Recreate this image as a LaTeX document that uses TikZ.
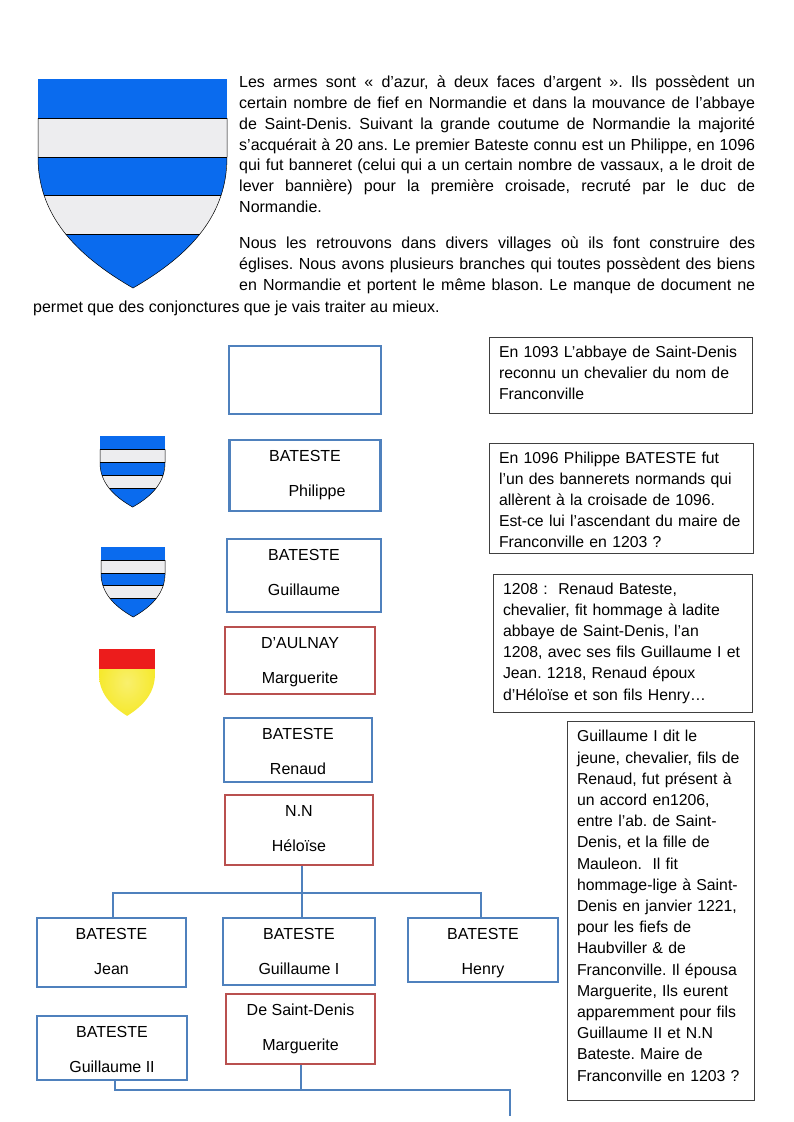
\documentclass[tikz,border=0pt]{standalone}
\usepackage{fontspec}
\setmainfont{Liberation Sans}
\frenchspacing
\definecolor{azur}{HTML}{0A6BEE}
\definecolor{argent}{HTML}{EDEDEF}
\definecolor{boxblue}{HTML}{4F81BD}
\definecolor{boxred}{HTML}{B9504F}
\definecolor{gueules}{HTML}{EC1C1C}
\definecolor{or}{HTML}{F6E92E}
\newcommand{\shieldpath}{(0,0) -- (189,0) -- (189,78) .. controls (189,135) and (154,175) .. (95,209) .. controls (36,175) and (0,135) .. (0,78) -- cycle}
\newcommand{\lowstrut}[1]{\rule[-#1pt]{0pt}{#1pt}}
\newcommand{\highstrut}[1]{\rule{0pt}{#1pt}}
\newcommand{\batesteshield}[4]{
    \begin{scope}[shift={(#1,#2)},xscale=#3,yscale=#4]
        \fill[argent] \shieldpath;
        \begin{scope}
            \clip \shieldpath;
            \fill[azur] (0,0) rectangle (189,39);
            \fill[azur] (0,78) rectangle (189,116);
            \fill[azur] (0,155) rectangle (189,209);
            \draw[line width=1pt] (0,39) -- (189,39);
            \draw[line width=1pt] (0,78) -- (189,78);
            \draw[line width=1pt] (0,116) -- (189,116);
            \draw[line width=1pt] (0,155) -- (189,155);
        \end{scope}
        \draw[line width=0.5pt] (0,39) -- (0,78) .. controls (0,135) and (36,175) .. (95,209) .. controls (154,175) and (189,135) .. (189,78) -- (189,39);
    \end{scope}
}
\tikzset{
    bluebox/.style={draw=boxblue, line width=2.8pt, align=center, inner sep=0pt, font=\fontsize{16}{35}\selectfont},
    redbox/.style={bluebox, draw=boxred},
    notebox/.style={draw=black!75, line width=0.8pt, align=left, inner sep=0pt, font=\fontsize{15.8}{21.2}\selectfont},
    bodytext/.style={inner sep=0pt, align=justify, font=\fontsize{16}{20.85}\selectfont},
    bluelink/.style={draw=boxblue, line width=2.8pt}
}
\begin{document}
\begin{tikzpicture}[x=1pt,y=-1pt]
    \useasboundingbox (0,0) rectangle (793,1122);

    %Shields
    \batesteshield{38}{79}{1}{1}
    \batesteshield{100}{436}{0.344}{0.34}
    \batesteshield{101}{547}{0.339}{0.335}
    \begin{scope}[shift={(99,649)},xscale=0.296,yscale=0.32]
        \shade[inner color=or!70!white, outer color=or] \shieldpath;
        \fill[gueules] (0,0) rectangle (189,63);
    \end{scope}

    %Text
    \node[bodytext, anchor=north west, text width=516pt] (armes) at (239,75.5) {Les armes sont « d’azur, à deux faces d’argent ». Ils possèdent un\linebreak certain nombre de fief en Normandie et dans la mouvance de l’abbaye\linebreak de Saint-Denis. Suivant la grande coutume de Normandie la majorité\linebreak s’acquérait à 20 ans. Le premier Bateste connu est un Philippe, en 1096\linebreak qui fut banneret (celui qui a un certain nombre de vassaux, a le droit de\linebreak lever bannière) pour la première croisade, recruté par le duc de\linebreak Normandie.};
    \node[bodytext, anchor=north west, text width=516pt] (villages) at (239,236.5) {Nous les retrouvons dans divers villages où ils font construire des\linebreak églises. Nous avons plusieurs branches qui toutes possèdent des biens\linebreak en Normandie et portent le même blason. Le manque de document ne\parfillskip=0pt\par};
    \node[bodytext, anchor=north west, text width=600pt] (conjonctures) at (33,301) {permet que des conjonctures que je vais traiter au mieux.};

    %Nodes
    \node[bluebox, minimum width=152pt, minimum height=68pt] (inconnu) at (305,380) {};
    \node[bluebox, minimum width=151pt, minimum height=71pt] (philippe) at (305,475.5) {BATESTE\\\hspace*{24pt}Philippe};
    \node[bluebox, minimum width=154pt, minimum height=73pt] (guillaume) at (304,575.5) {BATESTE\\Guillaume\lowstrut{6}};
    \node[redbox, minimum width=150pt, minimum height=67pt] (marguerite) at (300,660.5) {\highstrut{13.5}D’AULNAY\\Marguerite};
    \node[bluebox, minimum width=148pt, minimum height=64pt] (renaud) at (298,750) {\highstrut{13.5}BATESTE\\Renaud};
    \node[redbox, minimum width=148pt, minimum height=70pt] (heloise) at (299,830) {N.N\\Héloïse\lowstrut{4}};
    \node[bluebox, minimum width=149pt, minimum height=69pt] (jean) at (111.5,952.5) {BATESTE\\Jean\lowstrut{2}};
    \node[bluebox, minimum width=152pt, minimum height=67pt] (guillaumeI) at (299,951.5) {BATESTE\\Guillaume I};
    \node[bluebox, minimum width=150pt, minimum height=64pt] (henry) at (483,950) {\highstrut{17.5}BATESTE\\Henry};
    \node[redbox, minimum width=149pt, minimum height=70pt] (saintdenis) at (300.5,1029) {De Saint-Denis\\Marguerite};
    \node[bluebox, minimum width=150pt, minimum height=64pt] (guillaumeII) at (112,1048) {\highstrut{13.5}BATESTE\\Guillaume II};

    %Notes
    \node[notebox, minimum width=262.5pt, minimum height=76pt, text width=244pt] (note1093) at (621,375) {En 1093 L’abbaye de Saint-Denis\\reconnu un chevalier du nom de\\Franconville\lowstrut{5}};
    \node[notebox, minimum width=264pt, minimum height=110pt, text width=245pt] (note1096) at (621.5,498) {\highstrut{15}En 1096 Philippe BATESTE fut\\l’un des bannerets normands qui\\allèrent à la croisade de 1096.\\Est-ce lui l’ascendant du maire de\\Franconville en 1203 ?};
    \node[notebox, minimum width=259pt, minimum height=138pt, text width=239pt] (note1208) at (622.5,643) {1208 :\ \ Renaud Bateste,\\chevalier, fit hommage à ladite\\abbaye de Saint-Denis, l’an\\1208, avec ses fils Guillaume I et\\Jean. 1218, Renaud époux\\d’Héloïse et son fils Henry…};
    \node[notebox, minimum width=187pt, minimum height=379pt, text width=167pt] (note1221) at (660.5,910.5) {Guillaume I dit le\\jeune, chevalier, fils de\\Renaud, fut présent à\\un accord en1206,\\entre l’ab. de Saint-\\Denis, et la fille de\\Mauleon.\ \ Il fit\\hommage-lige à Saint-\\Denis en janvier 1221,\\pour les fiefs de\\Haubviller \& de\\Franconville. Il épousa\\Marguerite, Ils eurent\\apparemment pour fils\\Guillaume II et N.N\\Bateste. Maire de\\Franconville en 1203 ?\lowstrut{9.5}};

    %Lines
    \coordinate (upper) at (302,893);
    \coordinate (lower) at (301,1090);
    \coordinate (descent) at (510,1116);
    \draw[bluelink] (heloise.south -| upper) -- (guillaumeI.north -| upper);
    \draw[bluelink] ([xshift=1.5pt]jean.north) |- (upper) -| ([xshift=-2pt]henry.north);
    \draw[bluelink] (saintdenis.south -| lower) -- (lower);
    \draw[bluelink] ([xshift=3pt]guillaumeII.south) |- (descent |- lower) -- (descent);
\end{tikzpicture}
\end{document}
